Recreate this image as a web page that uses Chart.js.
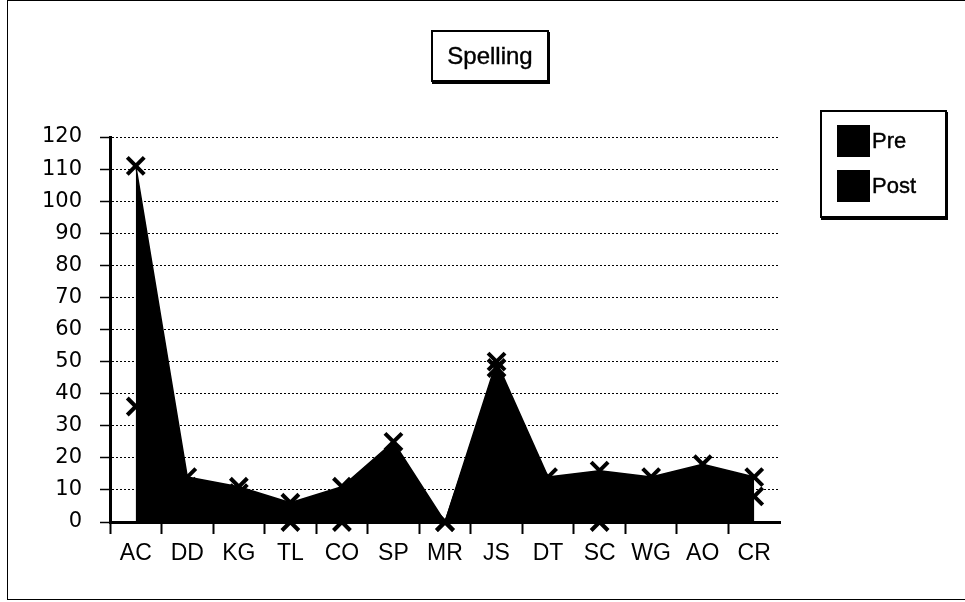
<!DOCTYPE html>
<html>
<head>
<meta charset="utf-8">
<script src="https://cdn.jsdelivr.net/npm/chart.js@4.4.1/dist/chart.umd.min.js"></script>
<style>
  body { margin: 0; background: #fff; }
  #wrap { position: relative; width: 965px; height: 602px; font-family: 'Liberation Sans', Arial, sans-serif; color: #000; }
  #frame { position: absolute; left: 7px; top: 0; width: 958px; height: 600px; box-sizing: border-box;
           border-left: 1px solid #000; border-top: 1px solid #000; border-bottom: 1px solid #000; }
  canvas { position: absolute; left: 0; top: 0; }
  .box { position: absolute; background: #fff; border: 2px solid #000; box-shadow: 1px 2px 0 #000; box-sizing: border-box; }
  #title { left: 431px; top: 30px; width: 118px; height: 52px; font-size: 24px; line-height: 48px; text-align: center; -webkit-text-stroke: 0.4px #000; }
  #legend { left: 820px; top: 110px; width: 127px; height: 108px; }
  .item { position: absolute; left: 15px; height: 32px; font-size: 22px; line-height: 32px; -webkit-text-stroke: 0.4px #000; }
  .item span.sw { display: inline-block; width: 33px; height: 32px; vertical-align: top; margin-right: 2px; }
</style>
</head>
<body>
<div id="wrap">
  <div id="frame"></div>
  <canvas id="chart" width="965" height="602"></canvas>
  <div id="title" class="box">Spelling</div>
  <div id="legend" class="box"></div>
</div>
<script>
const categories = ['AC', 'DD', 'KG', 'TL', 'CO', 'SP', 'MR', 'JS', 'DT', 'SC', 'WG', 'AO', 'CR'];
const seriesNames = ['Pre', 'Post'];
const preScores = [111, 14, 11, 6, 11, 25, 0, 50, 14, 16, 14, 18, 14];
const postScores = [36, 11, 9, 0, 0, 10, 0, 48, 11, 0, 10, 12, 8];
const seriesColors = ['#000', '#000'];
const yMin = 0;
const yMax = 120;
const yStep = 10;

function makeDataset(i, values) {
  return {
    label: seriesNames[i],
    data: values,
    borderColor: seriesColors[i],
    backgroundColor: seriesColors[i],
    borderWidth: 1.5,
    fill: 'origin',
    tension: 0,
    pointStyle: 'crossRot',
    pointRadius: 12,
    pointBorderWidth: 4,
    pointBorderColor: seriesColors[i],
    pointBackgroundColor: seriesColors[i],
    clip: false
  };
}

// legend boxes, one row per series
const legendEl = document.getElementById('legend');
seriesNames.forEach((name, i) => {
  const row = document.createElement('div');
  row.className = 'item';
  row.style.top = (13 + i * 45) + 'px';
  row.innerHTML = '<span class="sw" style="background:' + seriesColors[i] + '"></span>' + name;
  legendEl.appendChild(row);
});

Chart.defaults.font.family = "'Liberation Sans', Arial, sans-serif";
Chart.defaults.color = '#000';

const ctx = document.getElementById('chart').getContext('2d');
new Chart(ctx, {
  type: 'line',
  data: {
    labels: categories,
    datasets: [makeDataset(0, preScores), makeDataset(1, postScores)]
  },
  options: {
    responsive: false,
    animation: false,
    layout: { padding: { top: 137, right: 185, bottom: 0, left: 0 } },
    plugins: {
      legend: { display: false },
      title: { display: false },
      tooltip: { enabled: false }
    },
    scales: {
      x: {
        offset: true,
        grid: {
          offset: true,
          drawOnChartArea: false,
          tickLength: 12,
          tickWidth: 2,
          color: '#000',
          tickColor: c => (c.type === 'tick' ? '#000' : 'rgba(0,0,0,0)')
        },
        border: { color: '#000', width: 3 },
        ticks: { color: '#000', font: { size: 23 }, padding: 6, maxRotation: 0, autoSkip: false },
        afterFit: s => { s.height = 80; }
      },
      y: {
        min: yMin,
        max: yMax,
        ticks: { stepSize: yStep, color: '#000', font: { family: "'DejaVu Sans', sans-serif", size: 21 }, padding: 18 },
        grid: { color: '#000', lineWidth: 1, tickLength: 10, tickWidth: 1.5, tickColor: '#000' },
        border: { color: '#000', width: 3, dash: [2, 2] },
        afterFit: s => { s.width = 110; }
      }
    }
  }
});
</script>
</body>
</html>
